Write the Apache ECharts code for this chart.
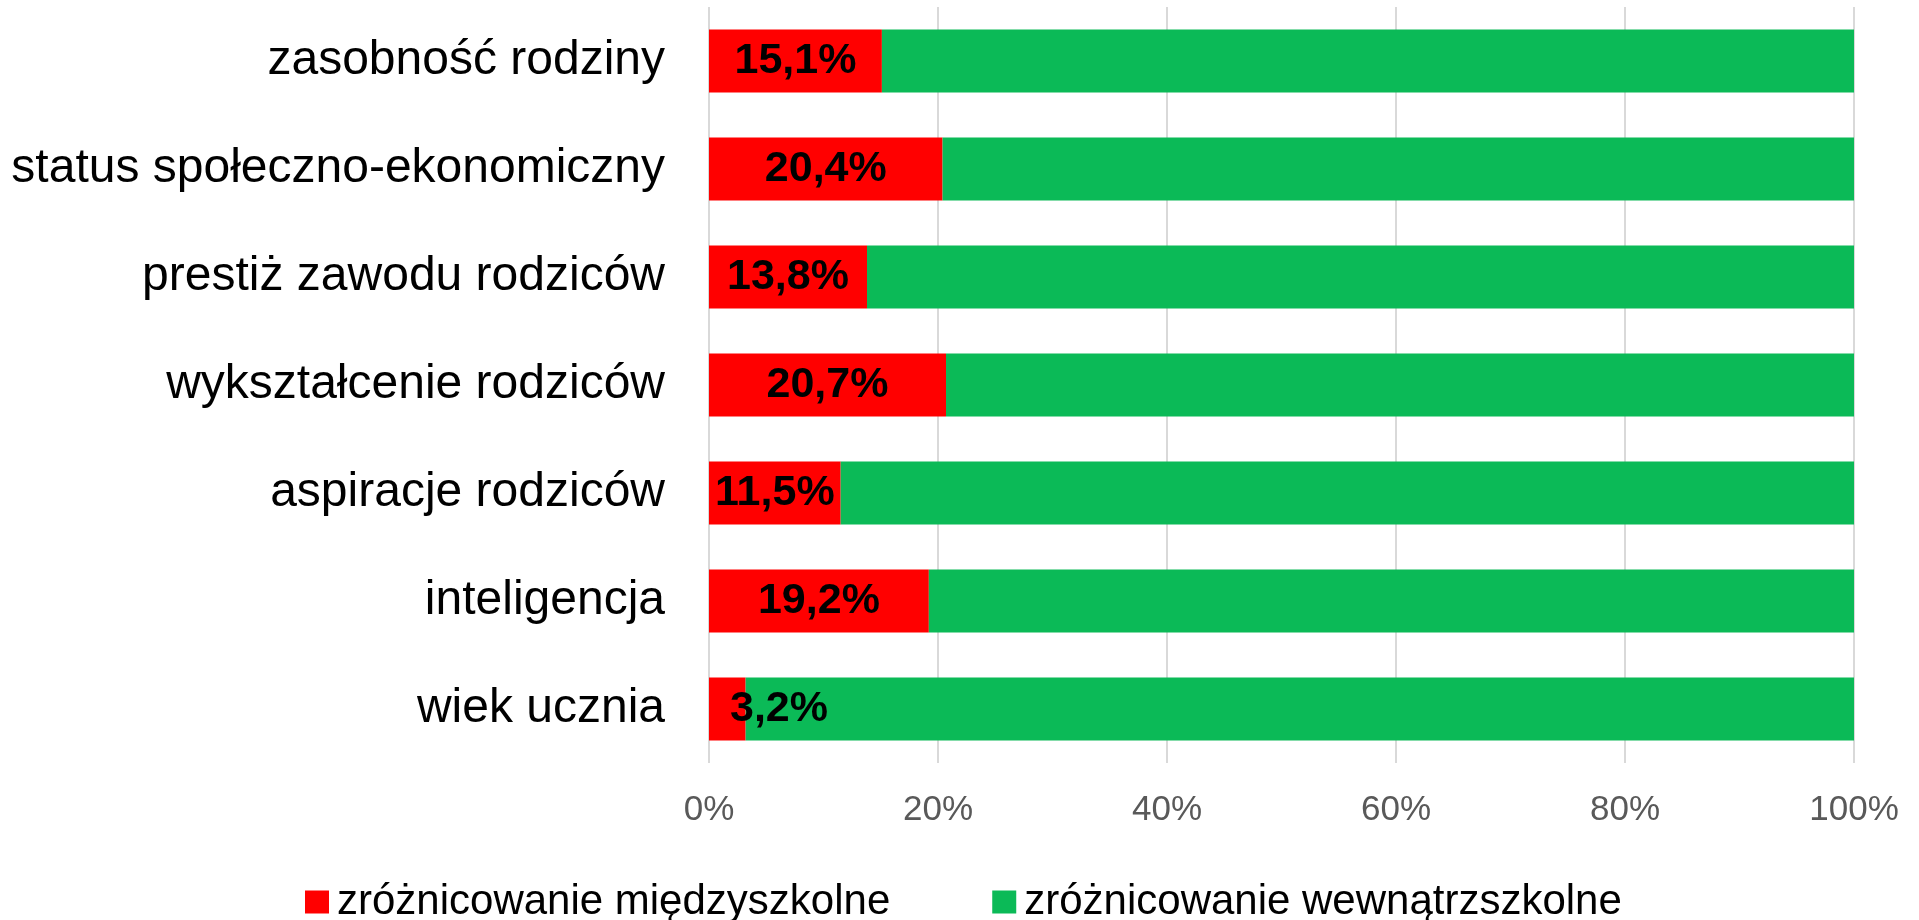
<!DOCTYPE html>
<html>
<head>
<meta charset="utf-8">
<script src="https://cdn.jsdelivr.net/npm/echarts@6/dist/echarts.min.js"></script>
<style>
html,body{margin:0;padding:0;background:#fff;}
#chart{width:1919px;height:920px;}
</style>
</head>
<body>
<div id="chart"></div>
<script>
// kategorie od góry do dołu
var categories = ['zasobność rodziny','status społeczno-ekonomiczny','prestiż zawodu rodziców','wykształcenie rodziców','aspiracje rodziców','inteligencja','wiek ucznia'];
var betweenSchools = [15.1, 20.4, 13.8, 20.7, 11.5, 19.2, 3.2];
var withinSchools = [84.9, 79.6, 86.2, 79.3, 88.5, 80.8, 96.8];
var seriesNames = ['zróżnicowanie międzyszkolne','zróżnicowanie wewnątrzszkolne'];
var xTicks = [0, 20, 40, 60, 80, 100];

var FONT = "'Liberation Sans', Arial, sans-serif";

function fmt(v){
	return v.toFixed(1).replace('.', ',') + '%';
}

// etykiety na czerwonych słupkach; mały słupek - etykieta przesunięta w prawo
var redData = [];
for (var i = 0; i < betweenSchools.length; i++) {
	var item = {value: betweenSchools[i]};
	if (betweenSchools[i] < 5) {
		item.label = {position: 'insideLeft', distance: 21};
	}
	redData.push(item);
}

var chart = echarts.init(document.getElementById('chart'));
var option = {
	animation: false,
	grid: {
		left: 709,
		right: 65,
		top: 7,
		bottom: 157,
		containLabel: false
	},
	legend: {
		data: seriesNames,
		left: 300,
		top: 876,
		icon: 'rect',
		itemWidth: 24,
		itemHeight: 23,
		itemGap: 102,
		textStyle: {
			fontFamily: FONT,
			fontSize: 42,
			color: '#000',
			padding: [0, 0, 0, 3]
		}
	},
	xAxis: {
		type: 'value',
		min: 0,
		max: 100,
		interval: 20,
		axisLine: {show: false},
		axisTick: {show: false},
		splitLine: {
			show: true,
			lineStyle: {color: '#d9d9d9', width: 2}
		},
		axisLabel: {
			fontFamily: FONT,
			fontSize: 35,
			color: '#595959',
			margin: 30,
			formatter: function(v){
				return xTicks.indexOf(v) >= 0 ? v + '%' : '';
			}
		}
	},
	yAxis: {
		type: 'category',
		data: categories,
		inverse: true,
		axisLine: {show: false},
		axisTick: {show: false},
		axisLabel: {
			fontFamily: FONT,
			fontSize: 48,
			color: '#000',
			margin: 44
		}
	},
	series: [
		{
			name: seriesNames[0],
			type: 'bar',
			stack: 'all',
			barWidth: 63,
			itemStyle: {color: '#ff0000'},
			label: {
				show: true,
				position: 'inside',
				fontFamily: FONT,
				fontSize: 43,
				fontWeight: 'bold',
				color: '#000',
				formatter: function(p){ return fmt(p.value); }
			},
			data: redData
		},
		{
			name: seriesNames[1],
			type: 'bar',
			stack: 'all',
			barWidth: 63,
			itemStyle: {color: '#0bba57'},
			data: withinSchools
		}
	]
};
chart.setOption(option);
</script>
</body>
</html>
